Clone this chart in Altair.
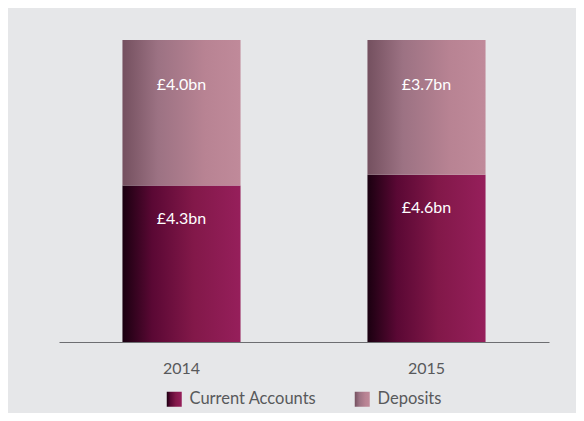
import altair as alt
import pandas as pd

years = ["2014", "2015"]
current = [4.3, 4.6]
deposits = [4.0, 3.7]
current_labels = ["£4.3bn", "£4.6bn"]
deposit_labels = ["£4.0bn", "£3.7bn"]
series = ["Current Accounts", "Deposits"]

rows = []
for i, yr in enumerate(years):
    rows.append(dict(year=yr, series=series[0], start=0.0, end=current[i], label=current_labels[i]))
    rows.append(dict(year=yr, series=series[1], start=current[i], end=current[i] + deposits[i], label=deposit_labels[i]))
df = pd.DataFrame(rows)

cur_stops = [(0, "#1a0010"), (0.25, "#5a0834"), (0.6, "#821849"), (1, "#961f5b")]
dep_stops = [(0, "#74505f"), (0.3, "#9c7283"), (0.7, "#b88393"), (1, "#c08a9a")]


def grad(stops):
    return alt.Gradient(gradient="linear", x1=0, y1=0, x2=1, y2=0,
                        stops=[alt.GradientStop(color=c, offset=o) for o, c in stops])


FONT = "Lato"
GREY = "#58595b"

x_enc = alt.X("year:N",
              scale=alt.Scale(paddingInner=0.518, paddingOuter=0.259),
              axis=alt.Axis(title=None, labelAngle=0, ticks=False, grid=False,
                            domainColor="#6d6e71", domainWidth=1.2,
                            labelColor=GREY, labelFont=FONT, labelFontSize=16,
                            labelPadding=18))
y_scale = alt.Scale(domain=[0, 8.3], nice=False, zero=True)

base = alt.Chart(df)

bar_cur = base.transform_filter(alt.datum.series == series[0]).mark_bar(
    color=grad(cur_stops)).encode(
    x=x_enc, y=alt.Y("start:Q", scale=y_scale, axis=None), y2="end:Q")
bar_dep = base.transform_filter(alt.datum.series == series[1]).mark_bar(
    color=grad(dep_stops)).encode(
    x=x_enc, y=alt.Y("start:Q", scale=y_scale, axis=None), y2="end:Q")

txt_cur = base.transform_filter(alt.datum.series == series[0]).mark_text(
    color="white", font=FONT, fontSize=16, baseline="middle", dy=33).encode(
    x=x_enc, y=alt.Y("end:Q", scale=y_scale, axis=None), text="label:N")
txt_dep = base.transform_filter(alt.datum.series == series[1]).mark_text(
    color="white", font=FONT, fontSize=16, baseline="middle", dy=45).encode(
    x=x_enc, y=alt.Y("end:Q", scale=y_scale, axis=None), text="label:N")


def legend_layer(name, stops, lx):
    return base.transform_filter(alt.datum.series == name).mark_point(
        size=0, opacity=0, filled=True, color=grad(stops)).encode(
        x=x_enc, y=alt.Y("start:Q", scale=y_scale, axis=None),
        shape=alt.Shape("series:N",
                        scale=alt.Scale(domain=[name], range=["square"]),
                        legend=alt.Legend(
                            title=None, orient="none", legendX=lx, legendY=351,
                            direction="horizontal", symbolSize=225,
                            symbolStrokeWidth=0, symbolOpacity=1,
                            labelFont=FONT, labelFontSize=16.5,
                            labelColor=GREY, labelOffset=7, padding=0)))


leg_cur = legend_layer(series[0], cur_stops, 107)
leg_dep = legend_layer(series[1], dep_stops, 295)

chart = alt.layer(bar_cur, bar_dep, txt_cur, txt_dep, leg_cur, leg_dep).resolve_scale(
    shape="independent").resolve_legend(shape="independent").properties(
    width=490, height=302,
    autosize="none",
    padding={"left": 51, "top": 32, "right": 27, "bottom": 71},
    background="#e6e7e9",
).configure_view(stroke=None)

chart.save("out.html", embed_options={"renderer": "svg", "actions": False})
